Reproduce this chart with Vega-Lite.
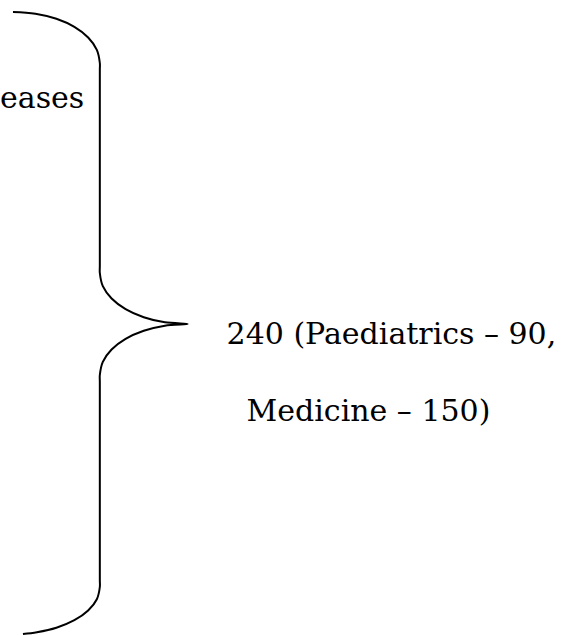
{
  "$schema": "https://vega.github.io/schema/vega-lite/v6.json",
  "width": 569,
  "height": 635,
  "autosize": {"type": "fit", "contains": "padding"},
  "padding": 0,
  "background": "white",
  "config": {"view": {"stroke": null}},
  "datasets": {
    "brace": [
      {"i": 1, "x": 12, "y": 12},
      {"i": 2, "x": 34.5, "y": 13.7},
      {"i": 3, "x": 55.5, "y": 18.8},
      {"i": 4, "x": 73.5, "y": 26.9},
      {"i": 5, "x": 87.3, "y": 37.5},
      {"i": 6, "x": 96, "y": 49.8},
      {"i": 7, "x": 99, "y": 63},
      {"i": 8, "x": 99, "y": 70},
      {"i": 9, "x": 99, "y": 266},
      {"i": 10, "x": 99, "y": 273},
      {"i": 11, "x": 102, "y": 286.2},
      {"i": 12, "x": 110.8, "y": 298.5},
      {"i": 13, "x": 124.8, "y": 309.1},
      {"i": 14, "x": 143, "y": 317.2},
      {"i": 15, "x": 164.2, "y": 322.3},
      {"i": 16, "x": 187, "y": 324},
      {"i": 17, "x": 164.2, "y": 325.7},
      {"i": 18, "x": 143, "y": 330.8},
      {"i": 19, "x": 124.8, "y": 338.9},
      {"i": 20, "x": 110.8, "y": 349.5},
      {"i": 21, "x": 102, "y": 361.8},
      {"i": 22, "x": 99, "y": 375},
      {"i": 23, "x": 99, "y": 382},
      {"i": 24, "x": 99, "y": 580},
      {"i": 25, "x": 99, "y": 587},
      {"i": 26, "x": 96, "y": 599.2},
      {"i": 27, "x": 87.3, "y": 610.5},
      {"i": 28, "x": 73.5, "y": 620.2},
      {"i": 29, "x": 55.5, "y": 627.7},
      {"i": 30, "x": 36, "y": 632.2},
      {"i": 31, "x": 22, "y": 634}
    ],
    "labels": [
      {"label": "eases", "x": -1, "y": 108},
      {"label": "240 (Paediatrics – 90,", "x": 226, "y": 344},
      {"label": "Medicine – 150)", "x": 246, "y": 421}
    ]
  },
  "layer": [
    {
      "data": {"name": "brace"},
      "mark": {"type": "line", "interpolate": "catmull-rom", "color": "black", "strokeWidth": 2, "clip": true},
      "encoding": {
        "x": {"field": "x", "type": "quantitative", "scale": {"domain": [0, 569], "nice": false, "zero": false}, "axis": null},
        "y": {"field": "y", "type": "quantitative", "scale": {"domain": [0, 635], "nice": false, "zero": false, "reverse": true}, "axis": null},
        "order": {"field": "i", "type": "quantitative"}
      }
    },
    {
      "data": {"name": "labels"},
      "mark": {"type": "text", "align": "left", "baseline": "alphabetic", "font": "DejaVu Serif", "fontSize": 30, "color": "black"},
      "encoding": {
        "x": {"field": "x", "type": "quantitative", "scale": {"domain": [0, 569], "nice": false, "zero": false}, "axis": null},
        "y": {"field": "y", "type": "quantitative", "scale": {"domain": [0, 635], "nice": false, "zero": false, "reverse": true}, "axis": null},
        "text": {"field": "label", "type": "nominal"}
      }
    }
  ]
}
